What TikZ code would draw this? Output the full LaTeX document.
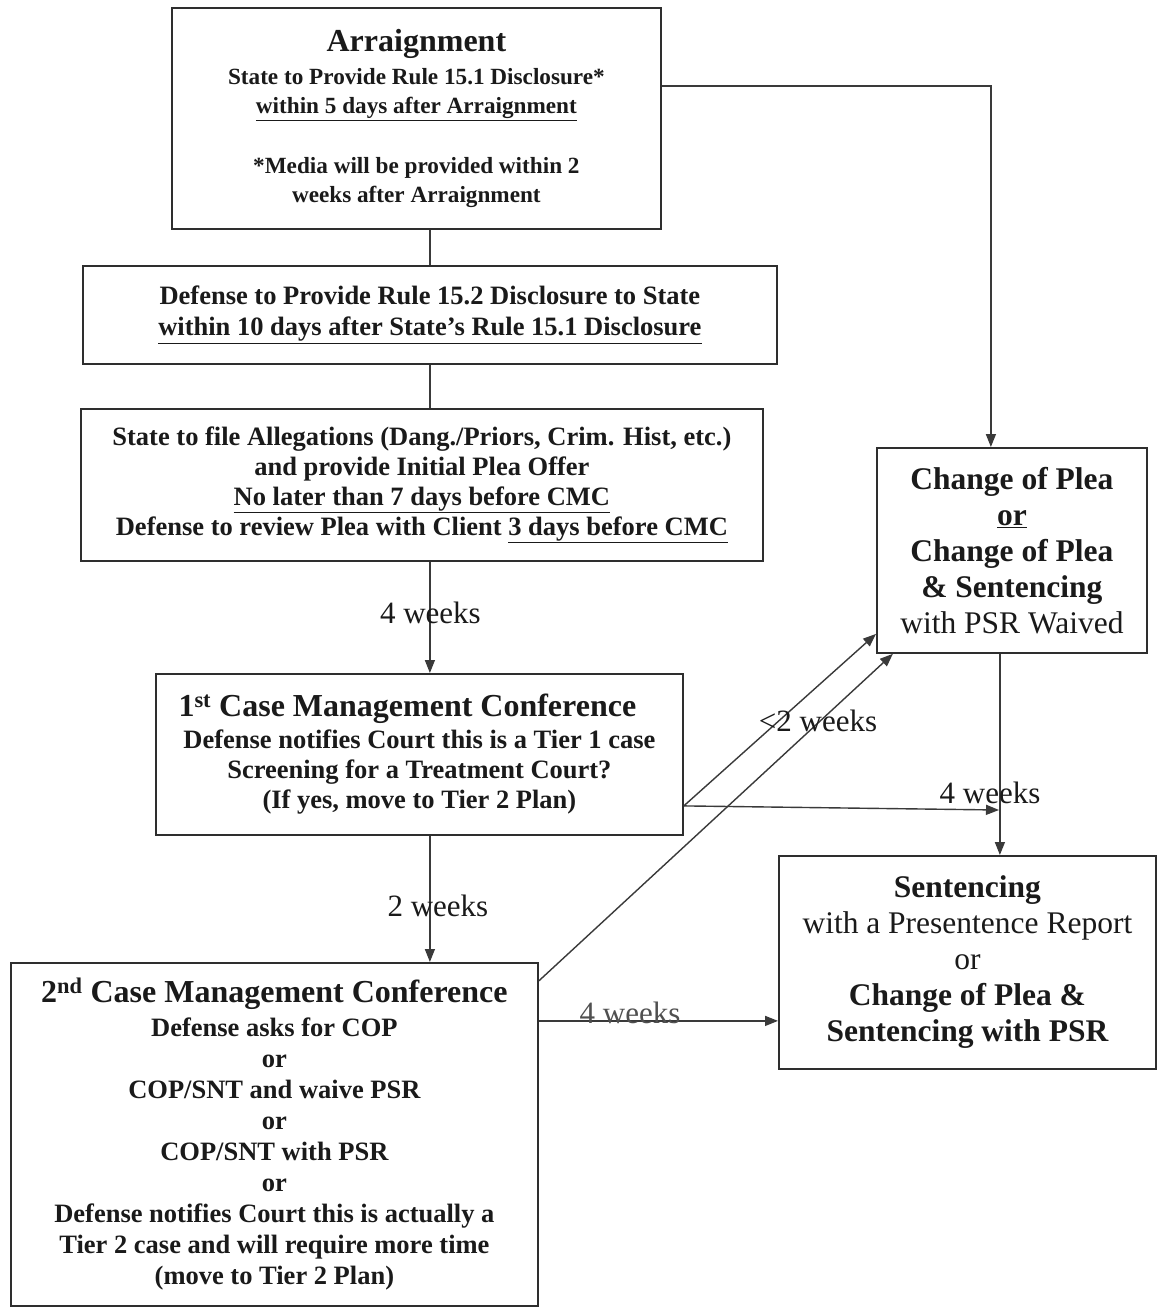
\documentclass[tikz,border=0pt]{standalone}
\usepackage{fontspec}
\setmainfont{Liberation Serif}
\usetikzlibrary{arrows.meta,calc}

\definecolor{ink}{HTML}{1A1A1A}
\definecolor{frame}{HTML}{2E2E2E}
\definecolor{wire}{HTML}{3A3A3A}
\definecolor{softink}{HTML}{505050}

\newcommand\headfont{\fontsize{32}{34}\selectfont\bfseries}
\newcommand\bodyfont{\fontsize{26.5}{30}\selectfont\bfseries}
\newcommand\smallbodyfont{\fontsize{23.2}{29}\selectfont\bfseries}
\newcommand\bigfont{\fontsize{31.5}{36}\selectfont\bfseries}

\tikzset{
  x=1pt, y=-1pt,
  box/.style={draw=frame, line width=1.8pt, anchor=north west, align=center,
              inner sep=0pt, text=ink},
  wire/.style={draw=wire, line width=1.4pt},
  flow/.style={wire, -{Triangle[length=13pt,width=10pt]}},
  lbl/.style={font=\fontsize{31}{34}\selectfont, text=ink, inner sep=0pt},
}

\begin{document}
\begin{tikzpicture}
\fill[white] (0,0) rectangle (1160,1310);
\useasboundingbox (0,0) rectangle (1160,1310);

% ---- left column of steps ----
\node[box, minimum width=489pt, minimum height=221pt, font=\smallbodyfont] (arr) at (171,7)
  {{\headfont Arraignment}\\[4pt]
   State to Provide Rule 15.1 Disclosure*\\
   \underline{within 5 days after Arraignment}\\[31pt]
   *Media will be provided within 2\\
   weeks after Arraignment};

\node[box, minimum width=694pt, minimum height=98pt, font=\bodyfont] (def) at (82,265)
  {Defense to Provide Rule 15.2 Disclosure to State\\[1pt]
   \underline{within 10 days after State’s Rule 15.1 Disclosure}};

\node[box, minimum width=682pt, minimum height=152pt, font=\bodyfont] (st) at (80,408)
  {State to file Allegations (Dang./Priors, Crim. Hist, etc.)\\
   and provide Initial Plea Offer\\
   \underline{No later than 7 days before CMC}\\
   Defense to review Plea with Client \underline{3 days before CMC}};

\node[box, minimum width=527pt, minimum height=161pt, font=\bodyfont] (c1) at (155,673)
  {{\headfont 1\textsuperscript{st} Case Management Conference\hspace*{24pt}}\\[2pt]
   Defense notifies Court this is a Tier 1 case\\
   Screening for a Treatment Court?\\
   (If yes, move to Tier 2 Plan)};

\node[box, minimum width=527pt, minimum height=343pt,
      font=\fontsize{26.5}{31}\selectfont\bfseries] (c2) at (10,962)
  {{\headfont 2\textsuperscript{nd} Case Management Conference}\\[3pt]
   Defense asks for COP\\
   or\\
   COP/SNT and waive PSR\\
   or\\
   COP/SNT with PSR\\
   or\\
   Defense notifies Court this is actually a\\
   Tier 2 case and will require more time\\
   (move to Tier 2 Plan)};

% ---- right column of outcomes ----
\node[box, minimum width=270pt, minimum height=205pt, font=\bigfont] (cop) at (876,447)
  {Change of Plea\\
   \underline{or}\\
   Change of Plea\\
   \& Sentencing\\
   {\mdseries with PSR Waived}};

\node[box, minimum width=377pt, minimum height=213pt, font=\bigfont] (sent) at (778,855)
  {Sentencing\\
   {\mdseries with a Presentence Report}\\
   {\mdseries or}\\
   Change of Plea \&\\
   Sentencing with PSR};

\coordinate (merge) at (999,810);

% ---- connectors ----
\draw[wire] (def.north |- arr.south) -- (def.north);
\draw[wire] (def.south) -- (def.south |- st.north);
\draw[flow] (def.south |- st.south) --
  node[lbl, pos=0.46, xshift=0.5pt] (w1) {4 weeks} (def.south |- c1.north);
\draw[flow] (def.south |- c1.south) --
  node[lbl, pos=0.555, xshift=8pt] (w2) {2 weeks} (def.south |- c2.north);

\draw[flow] ([yshift=32.5pt]arr.east) -| ([xshift=-21pt]cop.north);
\draw[flow] ([yshift=-51.5pt]c1.east) -- ([yshift=-83.5pt]cop.west);
\draw[flow] ([yshift=153.5pt]c2.east) -- ([xshift=-119pt]cop.south);
\draw[flow] ([yshift=-51.5pt]c1.east) -- (merge);
\draw[flow] ([xshift=-12pt]cop.south) -- ([xshift=-12pt]cop.south |- sent.north);
\draw[flow] ([yshift=113.5pt]c2.east) -- ([yshift=-58.5pt]sent.west);

\node[lbl] (w3) at (818,721) {<2 weeks};
\node[lbl] (w4) at (990,793) {4 weeks};
\node[lbl, text=softink] (w5) at (630,1013) {4 weeks};
\end{tikzpicture}
\end{document}
